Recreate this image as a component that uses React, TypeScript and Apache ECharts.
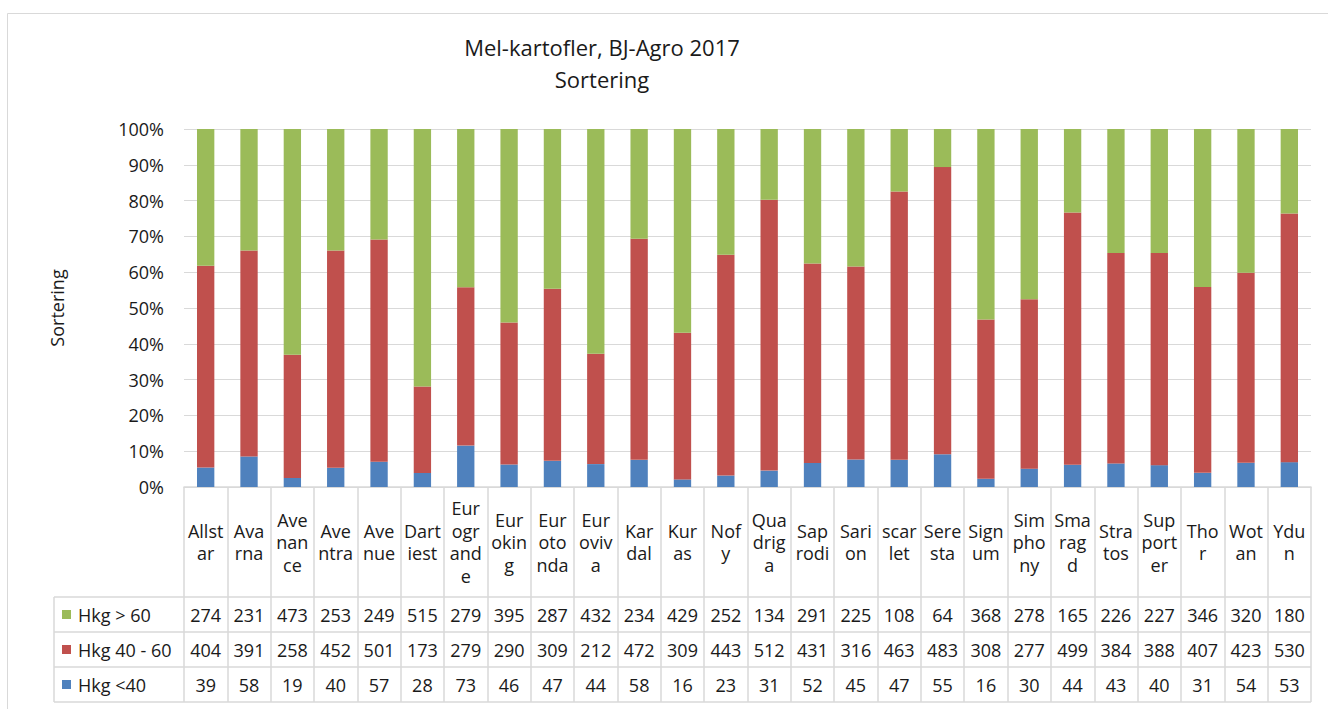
import React, { useEffect, useRef } from "react";
import * as echarts from "echarts";

const categories = ["Allstar","Avarna","Avenance","Aventra","Avenue","Dartiest","Eurogrande","Euroking","Eurotonda","Euroviva","Kardal","Kuras","Nofy","Quadriga","Saprodi","Sarion","scarlet","Seresta","Signum","Simphony","Smaragd","Stratos","Supporter","Thor","Wotan","Ydun"];
const categoryLabels = ["Allst\nar","Ava\nrna","Ave\nnan\nce","Ave\nntra","Ave\nnue","Dart\niest","Eur\nogr\nand\ne","Eur\nokin\ng","Eur\noto\nnda","Eur\noviv\na","Kar\ndal","Kur\nas","Nof\ny","Qua\ndrig\na","Sap\nrodi","Sari\non","scar\nlet","Sere\nsta","Sign\num","Sim\npho\nny","Sma\nrag\nd","Stra\ntos","Sup\nport\ner","Tho\nr","Wot\nan","Ydu\nn"];
const over60 = [274,231,473,253,249,515,279,395,287,432,234,429,252,134,291,225,108,64,368,278,165,226,227,346,320,180];
const mid4060 = [404,391,258,452,501,173,279,290,309,212,472,309,443,512,431,316,463,483,308,277,499,384,388,407,423,530];
const under40 = [39,58,19,40,57,28,73,46,47,44,58,16,23,31,52,45,47,55,16,30,44,43,40,31,54,53];
const seriesNames = ["Hkg <40", "Hkg 40 - 60", "Hkg > 60"];
const colors = ["#4f81bd", "#c0504d", "#9bbb59"];
const titleLines = ["Mel-kartofler, BJ-Agro 2017", "Sortering"];

const FONT = "'Open Sans', 'Noto Sans', sans-serif";
const TXT = "#1a1a1a";
const LINE = "#d9d9d9";
const FS = 18;

// layout
const GL = 184, GR = 1311, GT = 129, GB = 487;
const ROW_TOP = 597, ROW_H = 35;
const LEG_L = 54;

export default function App() {
  const ref = useRef<HTMLDivElement>(null);
  useEffect(() => {
    if (!ref.current) return;
    const chart = echarts.init(ref.current, null, { renderer: "svg" });
    const totals = categories.map((_, i) => over60[i] + mid4060[i] + under40[i]);
    const pct = (arr: number[]) => arr.map((v, i) => (v / totals[i]) * 100);
    const seriesData = [pct(under40), pct(mid4060), pct(over60)];
    const tableRows = [over60, mid4060, under40];
    const legendOrder = [2, 1, 0];

    const graphic: any[] = [
      { type: "rect", shape: { x: 7.5, y: 13.5, width: 1330, height: 800 }, style: { fill: "none", stroke: LINE, lineWidth: 1 }, silent: true },
      ...titleLines.map((t, i) => ({
        type: "text", x: 602, y: 47 + i * 32,
        style: { text: t, font: `22px ${FONT}`, fill: TXT, align: "center", verticalAlign: "middle" },
      })),
    ];
    for (let r = 0; r <= 3; r++) {
      graphic.push({ type: "line", shape: { x1: LEG_L, y1: ROW_TOP + r * ROW_H, x2: GR, y2: ROW_TOP + r * ROW_H }, style: { stroke: LINE, lineWidth: 1.5 } });
    }
    graphic.push({ type: "line", shape: { x1: LEG_L, y1: ROW_TOP, x2: LEG_L, y2: ROW_TOP + 3 * ROW_H }, style: { stroke: LINE, lineWidth: 1.5 } });
    legendOrder.forEach((si, r) => {
      const cy = ROW_TOP + r * ROW_H + ROW_H / 2;
      graphic.push({ type: "rect", shape: { x: 62, y: cy - 4.5, width: 9, height: 9 }, style: { fill: colors[si] } });
      graphic.push({ type: "text", x: 78, y: cy, style: { text: seriesNames[si], font: `${FS}px ${FONT}`, fill: TXT, align: "left", verticalAlign: "middle" } });
    });

    chart.setOption({
      animation: false,
      textStyle: { fontFamily: FONT },
      grid: { left: GL, right: 1328 - GR, top: GT, height: GB - GT, containLabel: false, outerBoundsMode: "none" },
      xAxis: [
        {
          type: "category", data: categories, position: "bottom",
          axisLine: { show: true, lineStyle: { color: LINE, width: 1.5 } },
          axisTick: { show: true, length: ROW_TOP + 3 * ROW_H - GB, interval: 0, lineStyle: { color: LINE, width: 1.5 } },
          axisLabel: {
            interval: 0, margin: 55, verticalAlign: "middle", lineHeight: 22.5,
            fontSize: FS, color: TXT, fontFamily: FONT,
            formatter: (_v: string, i: number) => categoryLabels[i],
          },
        },
        {
          type: "category", data: categories, position: "bottom",
          axisLine: { show: false }, axisTick: { show: false },
          axisLabel: {
            interval: 0, margin: ROW_TOP + ROW_H * 1.5 - GB, verticalAlign: "middle", lineHeight: ROW_H,
            fontSize: FS, color: TXT, fontFamily: FONT,
            formatter: (_v: string, i: number) => tableRows.map((r) => r[i]).join("\n"),
          },
        },
      ],
      yAxis: {
        type: "value", min: 0, max: 100, interval: 10,
        name: "Sortering", nameLocation: "middle", nameGap: 118,
        nameTextStyle: { fontSize: FS, color: TXT, fontFamily: FONT },
        axisLine: { show: false }, axisTick: { show: false },
        axisLabel: { formatter: "{value}%", margin: 20, fontSize: FS, color: TXT, fontFamily: FONT },
        splitLine: { show: true, lineStyle: { color: LINE, width: 1 } },
      },
      series: seriesNames.map((name, si) => ({
        name, type: "bar", stack: "all", data: seriesData[si], barWidth: "40%",
        itemStyle: { color: colors[si] },
      })),
      graphic,
    });
    return () => chart.dispose();
  }, []);
  return <div ref={ref} style={{ position: "absolute", left: 0, top: 0, width: 1328, height: 709 }} />;
}
